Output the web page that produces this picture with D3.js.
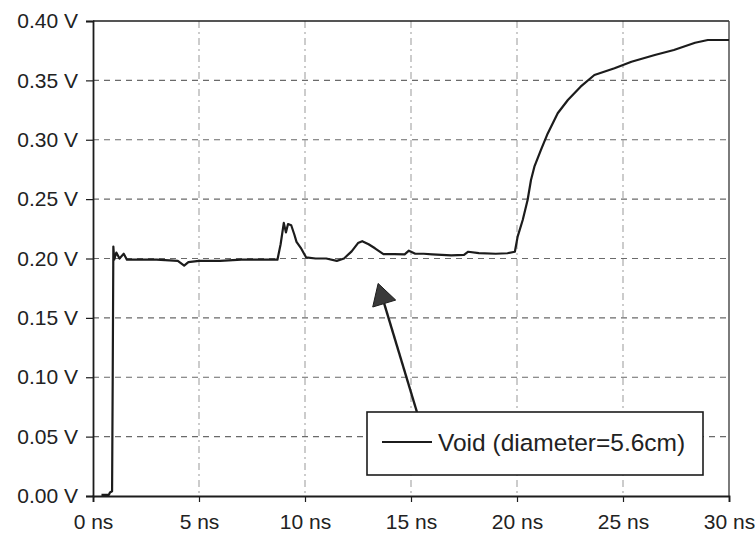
<!DOCTYPE html>
<html>
<head>
<meta charset="utf-8">
<script src="https://cdn.jsdelivr.net/npm/d3@7"></script>
<style>
  html, body { margin: 0; padding: 0; background: #fff; }
  svg { display: block; font-family: "Liberation Sans", Arial, sans-serif; }
</style>
</head>
<body>
<svg id="chart" width="755" height="539"></svg>
<script>
// ---- data ----
const timeNs = [0.4, 0.75, 0.8, 0.9, 0.93, 0.96, 1.0, 1.1, 1.25, 1.45, 1.6, 2, 3, 4, 4.3, 4.5, 5, 6, 7, 8,
  8.7, 8.85, 9.0, 9.1, 9.2, 9.35, 9.5, 9.6, 9.8, 10.05, 10.5, 11, 11.5, 11.84, 12.2, 12.5, 12.7, 13.0, 13.3, 13.7,
  14.2, 14.7, 14.9, 15.2, 15.6, 16, 16.9, 17.5, 17.7, 18.2, 19, 19.55, 19.9,
  20.03, 20.27, 20.5, 20.66, 20.82, 21.13, 21.45, 21.92, 22.4, 23.0, 23.65, 24.6, 25.4, 26.5, 27.4, 28.4, 29.0, 30.0];
const voltage = [0.001, 0.001, 0.003, 0.004, 0.1, 0.21, 0.199, 0.205, 0.2, 0.204, 0.199, 0.199, 0.199, 0.198, 0.194, 0.197, 0.198, 0.198, 0.199, 0.199,
  0.199, 0.212, 0.230, 0.222, 0.229, 0.228, 0.220, 0.214, 0.209, 0.201, 0.200, 0.200, 0.198, 0.200, 0.206, 0.213, 0.2146, 0.212, 0.2086, 0.2037,
  0.2037, 0.2035, 0.2066, 0.204, 0.204, 0.2035, 0.2026, 0.203, 0.2057, 0.2045, 0.2040, 0.2044, 0.2057,
  0.2184, 0.2324, 0.2493, 0.2661, 0.2773, 0.2914, 0.3053, 0.3223, 0.3335, 0.3447, 0.3545, 0.3602, 0.3657, 0.3714, 0.3756, 0.3817, 0.384, 0.384];
const xTicks = [0, 5, 10, 15, 20, 25, 30];
const yTicks = [0, 0.05, 0.10, 0.15, 0.20, 0.25, 0.30, 0.35, 0.40];
const legendLabel = "Void (diameter=5.6cm)";
const arrowTarget = [13.45, 0.179]; // where the annotation arrow points (ns, V)
const arrowStartNs = 15.28;          // arrow tail on legend box top (ns)

// ---- layout ----
const svg = d3.select("#chart");
const L = 93, R = 729, T = 21, B = 496;
const x = d3.scaleLinear().domain([0, 30]).range([L, R]);
const y = d3.scaleLinear().domain([0, 0.4]).range([B, T]);
const ink = "#1c1c1c";

// gridlines
const grid = svg.append("g");
grid.selectAll("line.h").data(yTicks.filter(v => v > 0 && v < 0.4)).join("line")
  .attr("x1", L).attr("x2", R).attr("y1", d => y(d)).attr("y2", d => y(d))
  .attr("stroke", "#6a6a6a").attr("stroke-width", 1.2).attr("stroke-dasharray", "6,5");
grid.selectAll("line.v").data(xTicks.filter(v => v > 0 && v < 30)).join("line")
  .attr("x1", d => x(d)).attr("x2", d => x(d)).attr("y1", T).attr("y2", B)
  .attr("stroke", "#999").attr("stroke-width", 1).attr("stroke-dasharray", "7,4,2,4");

// frame: top & right
svg.append("line").attr("x1", L).attr("x2", R).attr("y1", T).attr("y2", T)
  .attr("stroke", ink).attr("stroke-width", 1.6);
svg.append("line").attr("x1", R).attr("x2", R).attr("y1", T).attr("y2", B)
  .attr("stroke", "#444").attr("stroke-width", 1.4);

// axes
const yAxis = svg.append("g").attr("transform", `translate(${L},0)`)
  .call(d3.axisLeft(y).tickValues(yTicks).tickSize(7).tickPadding(8)
    .tickFormat(d => d3.format(".2f")(d) + " V"));
const xAxis = svg.append("g").attr("transform", `translate(0,${B})`)
  .call(d3.axisBottom(x).tickValues(xTicks).tickSize(6).tickPadding(20)
    .tickFormat(d => d + " ns"));
[yAxis, xAxis].forEach(g => {
  g.select(".domain").attr("stroke", ink).attr("stroke-width", 1.8);
  g.selectAll(".tick line").attr("stroke", ink).attr("stroke-width", 1.2);
  g.selectAll("text").attr("fill", "#222").style("font-size", "21px")
    .style("font-family", '"Liberation Sans", Arial, sans-serif');
});
xAxis.selectAll("text").attr("dy", "0.35em");

// data line
const pts = timeNs.map((t, i) => [t, voltage[i]]);
svg.append("path").datum(pts)
  .attr("fill", "none").attr("stroke", ink).attr("stroke-width", 2.2)
  .attr("stroke-linejoin", "round")
  .attr("d", d3.line().x(d => x(d[0])).y(d => y(d[1])));

// legend box
const bx = 367, by = 412, bw = 336, bh = 63;
// arrow
const tip = [x(arrowTarget[0]), y(arrowTarget[1])];
const tail = [x(arrowStartNs), by];
const ang = Math.atan2(tip[1] - tail[1], tip[0] - tail[0]);
const headLen = 21, headHalf = 12;
const baseC = [tip[0] - headLen * Math.cos(ang), tip[1] - headLen * Math.sin(ang)];
svg.append("line").attr("x1", tail[0]).attr("y1", tail[1]).attr("x2", baseC[0]).attr("y2", baseC[1])
  .attr("stroke", ink).attr("stroke-width", 2.4);
const perp = [-Math.sin(ang), Math.cos(ang)];
svg.append("path")
  .attr("d", d3.line()([tip,
    [baseC[0] + perp[0] * headHalf, baseC[1] + perp[1] * headHalf],
    [baseC[0] - perp[0] * headHalf, baseC[1] - perp[1] * headHalf]]) + "Z")
  .attr("fill", "#3a3a3a").attr("stroke", ink).attr("stroke-width", 1);

svg.append("rect").attr("x", bx).attr("y", by).attr("width", bw).attr("height", bh)
  .attr("fill", "#fff").attr("stroke", ink).attr("stroke-width", 1.6);
svg.append("line").attr("x1", bx + 15).attr("x2", bx + 65).attr("y1", by + 30).attr("y2", by + 30)
  .attr("stroke", ink).attr("stroke-width", 1.8);
svg.append("text").attr("x", bx + 71).attr("y", by + 30).attr("dy", "0.35em")
  .attr("fill", "#222").style("font-size", "24.5px").text(legendLabel);
</script>
</body>
</html>
